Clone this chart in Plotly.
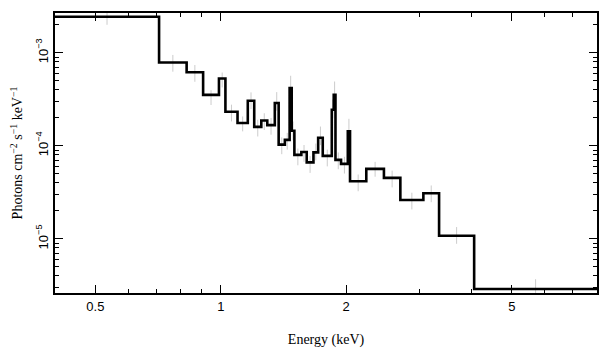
import numpy as np
import plotly.graph_objects as go

# Bin edges (keV) and model step values (photons cm^-2 s^-1 keV^-1)
edges = [0.4, 0.711, 0.828, 0.907, 0.990, 1.026, 1.097, 1.161, 1.203, 1.251,
         1.293, 1.348, 1.377, 1.425, 1.463, 1.480, 1.502, 1.561, 1.608, 1.669,
         1.713, 1.757, 1.847, 1.867, 1.885, 1.944, 2.018, 2.043, 2.235, 2.464,
         2.698, 3.064, 3.342, 4.057, 8.0]
model = [2.44e-3, 7.87e-4, 6.17e-4, 3.53e-4, 5.29e-4, 2.32e-4, 1.76e-4, 3.05e-4,
         1.60e-4, 1.87e-4, 1.67e-4, 2.88e-4, 1.03e-4, 1.16e-4, 4.17e-4, 1.45e-4,
         8.0e-5, 8.6e-5, 6.65e-5, 8.5e-5, 1.22e-4, 7.8e-5, 2.44e-4, 3.53e-4,
         7.06e-5, 6.4e-5, 1.43e-4, 4.17e-5, 5.66e-5, 4.53e-5, 2.62e-5, 3.10e-5,
         1.08e-5, 2.90e-6]
# Data points (faint error bars), value and half-error in dex
data_flux = [2.40e-3, 7.7e-4, 6.0e-4, 3.3e-4, 5.1e-4, 2.25e-4, 1.72e-4, 3.05e-4,
             1.55e-4, 1.82e-4, 1.62e-4, 3.0e-4, 1.0e-4, 1.12e-4, 4.6e-4, 1.45e-4,
             7.6e-5, 8.3e-5, 6.3e-5, 8.6e-5, 1.28e-4, 7.4e-5, 2.5e-4, 3.9e-4,
             6.9e-5, 6.2e-5, 1.55e-4, 4.0e-5, 5.6e-5, 4.4e-5, 2.55e-5, 3.05e-5,
             1.09e-5, 3.0e-6]
err_dex = [0.08, 0.09, 0.09, 0.08, 0.08, 0.09, 0.08, 0.09, 0.09, 0.09,
           0.09, 0.10, 0.09, 0.09, 0.09, 0.10, 0.09, 0.09, 0.09, 0.09,
           0.10, 0.09, 0.10, 0.10, 0.09, 0.09, 0.10, 0.09, 0.08, 0.09,
           0.09, 0.09, 0.09, 0.09]

x_major = [0.5, 1, 2, 5]
x_major_text = ["0.5", "1", "2", "5"]
x_minor = [0.6, 0.7, 0.8, 0.9, 3, 4, 6, 7, 8]
y_major = [1e-5, 1e-4, 1e-3]
y_major_text = ["10<sup>−5</sup>", "10<sup>−4</sup>", "10<sup>−3</sup>"]
y_minor = [3e-6, 4e-6, 5e-6, 6e-6, 7e-6, 8e-6, 9e-6,
           2e-5, 3e-5, 4e-5, 5e-5, 6e-5, 7e-5, 8e-5, 9e-5,
           2e-4, 3e-4, 4e-4, 5e-4, 6e-4, 7e-4, 8e-4, 9e-4, 2e-3]

e = np.array(edges)
centers = np.sqrt(e[:-1] * e[1:])
d = np.array(data_flux)
ed = np.array(err_dex)

fig = go.Figure()
fig.add_trace(go.Scatter(
    x=centers, y=d, mode="markers",
    marker=dict(size=1, opacity=0),
    error_y=dict(type="data", symmetric=False,
                 array=d * (10 ** ed - 1), arrayminus=d * (1 - 10 ** -ed),
                 color="#cccccc", thickness=1, width=0),
    hoverinfo="skip", showlegend=False))
fig.add_trace(go.Scatter(
    x=edges, y=model + [model[-1]], mode="lines",
    line=dict(shape="hv", color="black", width=2.6),
    showlegend=False))

tickfont = dict(family="Liberation Sans, Arial, sans-serif", size=13, color="black")
titlefont = dict(family="Liberation Serif, Times New Roman, serif", size=14, color="black")

fig.update_layout(
    width=609, height=357,
    margin=dict(l=55, r=12, t=13, b=64),
    plot_bgcolor="white", paper_bgcolor="white",
    xaxis=dict(
        type="log", range=[np.log10(0.4), np.log10(8.0)], automargin=False,
        tickmode="array", tickvals=x_major, ticktext=x_major_text,
        ticks="inside", ticklen=8, tickwidth=1.2, tickcolor="black",
        minor=dict(tickmode="array", tickvals=x_minor, ticks="inside",
                   ticklen=4, tickwidth=1.2, tickcolor="black", showgrid=False),
        showline=True, linecolor="black", linewidth=2, mirror="allticks",
        showgrid=False, zeroline=False, tickfont=tickfont,
        title=dict(text="Energy (keV)", font=titlefont, standoff=22)),
    yaxis=dict(
        type="log", range=[-5.581, -2.573], automargin=False,
        tickmode="array", tickvals=y_major, ticktext=y_major_text,
        ticks="inside", ticklen=8, tickwidth=1.2, tickcolor="black",
        minor=dict(tickmode="array", tickvals=y_minor, ticks="inside",
                   ticklen=4, tickwidth=1.2, tickcolor="black", showgrid=False),
        showline=True, linecolor="black", linewidth=2, mirror="allticks",
        showgrid=False, zeroline=False, tickfont=tickfont, tickangle=-90,
        title=dict(text="Photons cm<sup>−2</sup> s<sup>−1</sup> keV<sup>−1</sup>",
                   font=titlefont, standoff=8)),
)

fig.write_html("out.html", config={"displayModeBar": False},
               post_script="document.body.style.margin='0';document.body.style.padding='0';")
